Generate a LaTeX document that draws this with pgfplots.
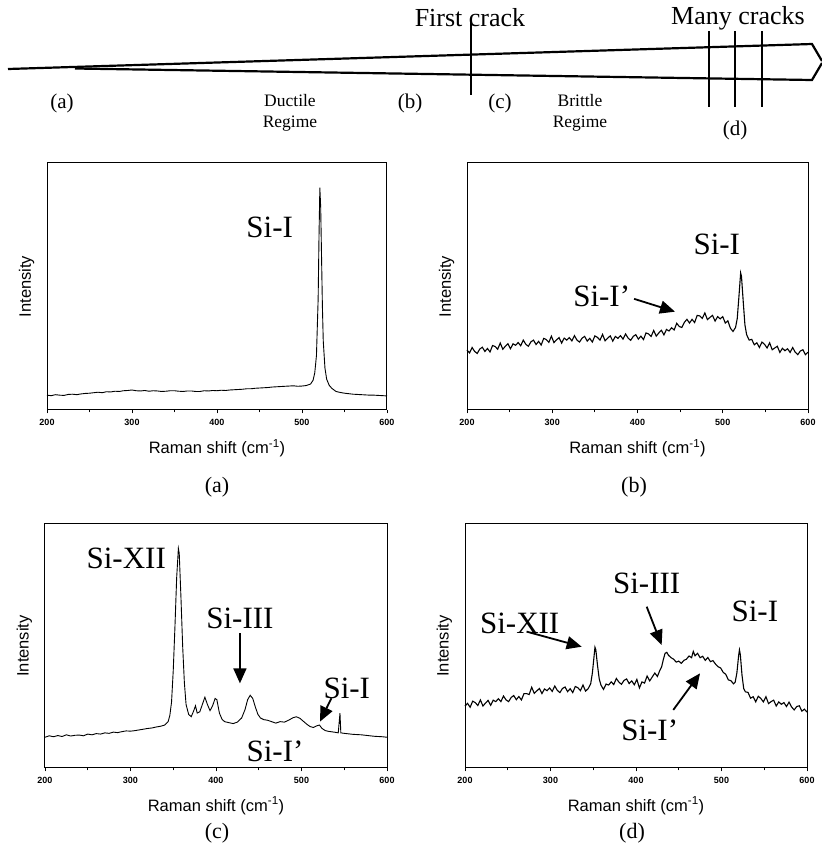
\documentclass[border=0pt]{standalone}
\usepackage{fontspec}
\setmainfont{Liberation Serif}
\newfontfamily\arial{Liberation Sans}
\usepackage{pgfplots}
\pgfplotsset{compat=1.18}
\usetikzlibrary{arrows.meta}

\tikzset{
  anno/.style={font=\fontsize{31}{33}\selectfont, inner sep=0pt},
  arr/.style={-{Triangle[length=15pt,width=13pt]}, line width=1.8pt},
}
\pgfplotsset{spec/.style={
  scale only axis, xmin=200, xmax=600, ymin=0, ymax=100,
  xtick={200,300,400,500,600}, minor x tick num=1, ytick=\empty,
  tick align=outside, xtick pos=bottom, major tick length=3.5pt, minor tick length=2.5pt,
  axis line style={line width=1pt},
  every tick/.style={black, line width=0.9pt},
  /pgf/number format/assume math mode=true,
  xticklabel style={font=\arial\bfseries\fontsize{9}{10}\selectfont, yshift=-2pt},
  xlabel={Raman shift (cm\textsuperscript{-1})},
  ylabel={Intensity},
  label style={font=\arial\fontsize{16.5}{18}\selectfont},
  xlabel style={at={(axis description cs:0.5,-0.155)}, anchor=center},
  ylabel style={at={(axis description cs:-0.06,0.5)}, anchor=center},
  clip=false,
}}

\begin{document}
\begin{tikzpicture}
\path[use as bounding box] (0,0) rectangle (822pt,847pt);

% ---------- schematic and panel captions (image pixel coordinates) ----------
\begin{axis}[at={(0pt,0pt)}, anchor=south west, scale only axis,
  width=822pt, height=847pt, xmin=0, xmax=822, ymin=0, ymax=847,
  y dir=reverse, hide axis, clip=false]
\addplot[black, line width=2.2pt, mark=none] coordinates {(8,69) (812,44) (822,61)};
\addplot[black, line width=2.2pt, mark=none] coordinates {(75,68.5) (812,80) (822,63)};
\addplot[black, line width=1.4pt, mark=none] coordinates {(471,22) (471,95)};
\addplot[black, line width=1.4pt, mark=none] coordinates {(709,31) (709,107)};
\addplot[black, line width=1.4pt, mark=none] coordinates {(735,31) (735,107)};
\addplot[black, line width=1.4pt, mark=none] coordinates {(762,31) (762,107)};
\node[font=\fontsize{26}{28}\selectfont] at (axis cs:470,18) {First crack};
\node[font=\fontsize{26}{28}\selectfont] at (axis cs:738,18) {Many cracks};
\node[font=\fontsize{21}{23}\selectfont] at (axis cs:62,103) {(a)};
\node[font=\fontsize{21}{23}\selectfont] at (axis cs:410,103) {(b)};
\node[font=\fontsize{21}{23}\selectfont] at (axis cs:500,103) {(c)};
\node[font=\fontsize{21}{23}\selectfont] at (axis cs:735,130) {(d)};
\node[font=\fontsize{17.5}{21}\selectfont, align=center] at (axis cs:290,113) {Ductile\\Regime};
\node[font=\fontsize{17.5}{21}\selectfont, align=center] at (axis cs:580,113) {Brittle\\Regime};
\node[font=\fontsize{22}{24}\selectfont] at (axis cs:217,487) {(a)};
\node[font=\fontsize{22}{24}\selectfont] at (axis cs:634,487) {(b)};
\node[font=\fontsize{22}{24}\selectfont] at (axis cs:217,833) {(c)};
\node[font=\fontsize{22}{24}\selectfont] at (axis cs:632,833) {(d)};
\end{axis}

% ---------- (a) ----------
\begin{axis}[spec, at={(47pt,437pt)}, anchor=south west, width=340pt, height=247pt]
\addplot[black, line width=0.9pt, mark=none] coordinates {
(200,6.0) (205,5.8) (210,6.2) (215,6.0) (220,5.9) (225,6.3) (230,6.4) (235,6.2) (240,6.5) (245,6.7)
(250,6.8) (255,7.0) (260,7.2) (265,7.0) (270,7.4) (275,7.3) (280,7.6) (285,7.5) (290,7.8) (295,7.9)
(300,8.1) (305,7.8) (310,7.7) (315,7.9) (320,7.6) (325,7.8) (330,7.7) (335,7.5) (340,7.6) (345,7.8)
(350,7.8) (355,7.6) (360,7.5) (365,7.7) (370,7.7) (375,7.5) (380,7.5) (385,7.8) (390,7.7) (395,7.9)
(400,7.8) (405,8.0) (410,7.9) (415,8.1) (420,8.2) (425,8.3) (430,8.4) (435,8.6) (440,8.6) (445,8.8)
(450,8.9) (455,9.0) (460,9.1) (465,9.3) (470,9.4) (475,9.5) (480,9.6) (485,9.7) (490,9.8) (495,9.6)
(500,9.7) (505,9.9) (510,10.5) (513,12) (515,15) (517,22) (519,45) (520,70) (521,90) (522,82)
(523,62) (524,42) (525,28) (527,17) (529,12.5) (532,10) (535,8.8) (540,7.5) (545,7.1) (550,6.8)
(555,6.6) (560,6.4) (565,6.3) (570,6.2) (575,6.1) (580,6.0) (585,6.0) (590,5.9) (595,5.8) (600,5.7)
};
\node[anno] at (axis cs:462,74) {Si-I};
\end{axis}

% ---------- (b) ----------
\begin{axis}[spec, at={(467pt,437pt)}, anchor=south west, width=341pt, height=247pt]
\addplot[black, line width=1.1pt, mark=none] coordinates {
(200,24.3) (203,23.1) (206,25.3) (209,23.7) (212,22.9) (215,24.7) (218,25.4) (221,23.7) (224,24.9) (227,23.5)
(230,26.1) (233,25.7) (236,24.6) (239,27.1) (242,24.6) (245,25.8) (248,26.8) (251,24.8) (254,26.8) (257,26.2)
(260,27.3) (263,26.0) (266,28.3) (269,26.6) (272,25.8) (275,27.6) (278,28.3) (281,26.5) (284,27.8) (287,26.3)
(290,29.0) (293,28.5) (296,27.4) (299,29.9) (302,27.3) (305,28.4) (308,29.3) (311,27.1) (314,29.1) (317,28.3)
(320,29.3) (323,28.0) (326,30.1) (329,28.3) (332,27.5) (335,29.1) (338,29.8) (341,27.9) (344,29.0) (347,27.5)
(350,30.0) (353,29.4) (356,28.3) (359,30.6) (362,28.0) (365,29.1) (368,30.0) (371,27.9) (374,29.8) (377,29.0)
(380,30.1) (383,28.7) (386,30.8) (389,29.1) (392,28.2) (395,29.8) (398,30.5) (401,28.7) (404,29.9) (407,28.5)
(410,31.2) (413,30.8) (416,29.8) (419,32.2) (422,29.9) (425,31.2) (428,32.3) (431,30.4) (434,32.6) (437,32.0)
(440,33.3) (443,32.4) (446,35.1) (449,33.8) (452,33.4) (455,35.5) (458,36.7) (461,35.2) (464,36.7) (467,35.4)
(470,38.3) (473,38.1) (476,37.1) (479,39.3) (482,36.6) (485,37.5) (488,38.3) (491,36.0) (494,37.8) (497,36.9)
(500,37.8) (503,35.2) (506,36.1) (509,33.1) (512,31.8) (515,33.4) (517,37.0) (519,46.0) (521,55.5) (522,54.0)
(524,44.0) (526,34.5) (528,30.5) (531,28.3) (534,28.6) (537,26.4) (540,27.2) (543,25.3) (546,27.5) (549,26.6)
(552,25.1) (555,27.2) (558,24.4) (561,25.1) (564,25.8) (567,23.3) (570,25.0) (573,24.0) (576,24.8) (579,23.3)
(582,25.3) (585,23.4) (588,22.4) (591,23.9) (594,24.4) (597,22.4) (600,23.4)
};
\node[anno] at (axis cs:493,67) {Si-I};
\node[anno] at (axis cs:358,46) {Si-I’};
\draw[arr] (axis cs:396,45) -- (axis cs:444,39.8);
\end{axis}

% ---------- (c) ----------
\begin{axis}[spec, at={(45pt,79pt)}, anchor=south west, width=342pt, height=244pt]
\addplot[black, line width=0.9pt, mark=none] coordinates {
(200,12.6) (205,13.2) (210,12.8) (215,13.3) (220,12.9) (225,13.6) (230,13.1) (235,13.4) (240,13.5) (245,13.2)
(250,13.9) (255,13.6) (260,14.1) (265,13.9) (270,14.4) (275,14.2) (280,14.7) (285,14.5) (290,14.9) (295,15.2)
(300,15.1) (305,15.3) (310,15.6) (315,15.9) (320,16.2) (325,16.4) (330,16.8) (335,17.1) (340,17.6) (344,19.0)
(346,21.5) (348,27) (350,40) (352,58) (354,78) (356,90) (357,88) (359,70) (361,50) (363,35)
(365,26) (368,22) (371,21) (374,23.5) (376,25.5) (378,22.5) (381,23) (384,26) (387,29) (390,26)
(393,23.5) (396,25.5) (399,28.5) (401,28) (404,22.5) (407,20) (410,19) (415,18.6) (420,18.2) (425,18.8)
(430,20.5) (434,24) (437,28) (440,29.8) (443,28.5) (446,25) (449,22) (452,20.5) (456,19.8) (460,19.6)
(465,19.0) (470,18.4) (475,19.0) (480,18.8) (485,19.6) (490,20.6) (494,21.0) (498,20.4) (502,19.2) (506,18.0)
(510,17.0) (514,16.6) (518,17.3) (521,17.6) (524,16.2) (528,15.3) (532,15.0) (536,14.8) (540,14.6) (543,14.4)
(545,22.5) (546,14.4) (550,14.2) (555,14.0) (560,13.8) (565,13.7) (570,13.6) (575,13.4) (580,13.2) (585,13.0)
(590,12.9) (595,12.8) (600,12.6)
};
\node[anno] at (axis cs:295,86) {Si-XII};
\node[anno] at (axis cs:428,61.3) {Si-III};
\draw[arr] (axis cs:428,55.2) -- (axis cs:428,34.7);
\node[anno] at (axis cs:553,32.7) {Si-I};
\draw[arr] (axis cs:535,28.6) -- (axis cs:521.6,19);
\node[anno] at (axis cs:469,6.7) {Si-I’};
\end{axis}

% ---------- (d) ----------
\begin{axis}[spec, at={(465pt,79pt)}, anchor=south west, width=342pt, height=244pt]
\addplot[black, line width=1.1pt, mark=none] coordinates {
(200,25.4) (203,26.5) (206,24.9) (209,27.4) (212,26.8) (215,25.6) (218,27.9) (221,25.4) (224,26.6) (227,27.7)
(230,25.7) (233,27.8) (236,27.2) (239,28.4) (242,27.2) (245,29.5) (248,27.9) (251,27.2) (254,28.9) (257,29.7)
(260,28.0) (263,29.3) (266,27.9) (269,30.5) (272,30.5) (275,30.1) (278,33.1) (281,30.6) (284,31.6) (287,32.6)
(290,30.5) (293,32.4) (296,31.7) (299,32.8) (302,31.4) (305,33.6) (308,31.8) (311,30.9) (314,32.6) (317,33.2)
(320,31.3) (323,32.5) (326,30.9) (329,33.4) (332,32.9) (335,31.7) (338,34.0) (341,31.5) (344,32.5) (347,34.5)
(349,39.0) (351,46.0) (352,49.5) (353,48.5) (355,42.0) (357,36.5) (359,34.0) (362,32.2) (365,34.4) (368,34.0)
(371,35.3) (374,34.2) (377,36.7) (380,35.2) (383,34.3) (386,35.9) (389,36.5) (392,34.6) (395,35.7) (398,34.1)
(401,36.3) (404,32.8) (407,35.3) (410,34.8) (413,37.7) (416,35.7) (419,37.3) (422,38.9) (425,37.5) (428,40.1)
(430,41.5) (432,44.5) (434,47.0) (436,47.4) (438,46.2) (441,45.2) (444,44.6) (447,43.4) (450,43.8) (453,42.9)
(456,44.1) (459,44.6) (462,45.9) (465,45.2) (467,47.8) (469,46.0) (472,47.0) (475,45.2) (478,45.8) (481,44.1)
(484,45.3) (487,43.6) (490,44.0) (493,42.6) (496,41.5) (499,41.0) (502,39.2) (505,38.4) (508,36.1) (511,35.8)
(514,34.5) (516,35.2) (518,39.0) (520,46.0) (521,48.4) (522,46.5) (524,38.0) (526,32.5) (528,31.2) (531,31.0)
(534,28.6) (537,29.2) (540,27.1) (543,29.4) (546,28.5) (549,27.1) (552,29.2) (555,26.4) (558,27.2) (561,27.8)
(564,25.4) (567,27.1) (570,26.1) (573,26.8) (576,25.2) (579,27.0) (582,25.0) (585,23.8) (588,25.2) (591,25.5)
(594,23.3) (597,24.1) (600,22.9)
};
\node[anno] at (axis cs:264,59.3) {Si-XII};
\draw[arr] (axis cs:272,55.9) -- (axis cs:336.5,49.7);
\node[anno] at (axis cs:412.5,75.7) {Si-III};
\draw[arr] (axis cs:412.5,66.1) -- (axis cs:430,50.4);
\node[anno] at (axis cs:539,64) {Si-I};
\node[anno] at (axis cs:416,15.6) {Si-I’};
\draw[arr] (axis cs:443.6,23.8) -- (axis cs:474.9,38.8);
\end{axis}
\end{tikzpicture}
\end{document}
